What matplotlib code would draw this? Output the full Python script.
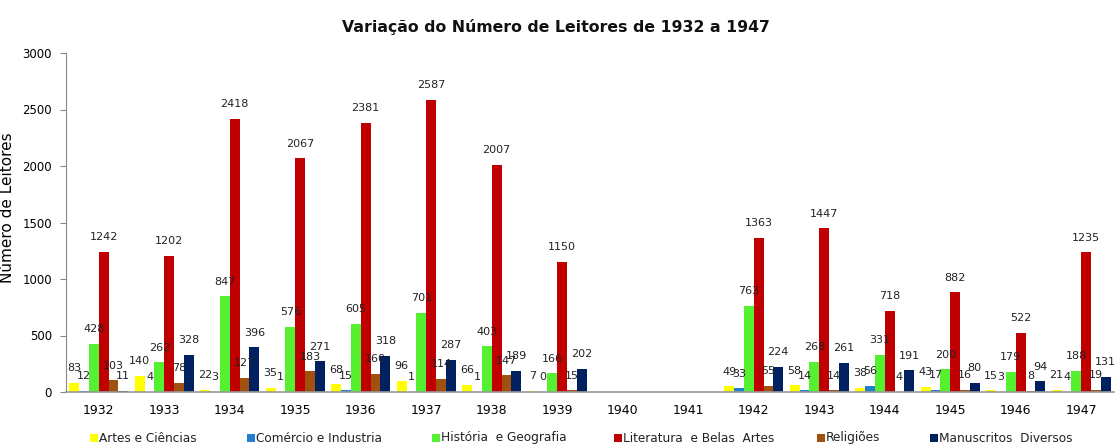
import matplotlib
matplotlib.use("Agg")
import matplotlib.pyplot as plt
from matplotlib.patches import Rectangle
import numpy as np

years = ["1932", "1933", "1934", "1935", "1936", "1937", "1938", "1939",
         "1940", "1941", "1942", "1943", "1944", "1945", "1946", "1947"]
series_names = ["Artes e Ciências", "Comércio e Industria", "História  e Geografia",
                "Literatura  e Belas  Artes", "Religiões", "Manuscritos  Diversos"]
nan = np.nan
artes = [83, 140, 22, 35, 68, 96, 66, 7, nan, nan, 49, 58, 38, 43, 15, 21]
comercio = [12, 4, 3, 1, 15, 1, 1, 0, nan, nan, 33, 14, 56, 17, 3, 4]
historia = [428, 262, 847, 576, 605, 701, 403, 166, nan, nan, 763, 268, 331, 200, 179, 188]
literatura = [1242, 1202, 2418, 2067, 2381, 2587, 2007, 1150, nan, nan, 1363, 1447, 718, 882, 522, 1235]
religioes = [103, 78, 127, 183, 160, 114, 147, 15, nan, nan, 55, 14, 4, 16, 8, 19]
manuscritos = [11, 328, 396, 271, 318, 287, 189, 202, nan, nan, 224, 261, 191, 80, 94, 131]
series = [artes, comercio, historia, literatura, religioes, manuscritos]
colors = ["#FFFF00", "#1F7FD0", "#55F030", "#C00000", "#A0500F", "#002060"]

W, H = 1116, 447
fig = plt.figure(figsize=(W / 100, H / 100), dpi=100)
ax = fig.add_axes([66 / W, 1 - 392 / H, 1048 / W, 339 / H])

x = np.arange(len(years))
w = 0.15
for i, (vals, c) in enumerate(zip(series, colors)):
    pos = x + (i - 2.5) * w
    arr = np.array(vals, dtype=float)
    ax.bar(pos, arr, width=w, color=c, zorder=2)
    for p, v in zip(pos, arr):
        if not np.isnan(v):
            ax.annotate(f"{int(v)}", (p, v), xytext=(0, 7), textcoords="offset points",
                        ha="center", va="bottom", fontsize=8, color="#222222", zorder=3)

ax.set_xlim(-0.5, len(years) - 0.5)
ax.set_ylim(0, 3000)
ax.set_yticks(range(0, 3001, 500))
ax.set_xticks(x)
ax.set_xticklabels(years)
ax.tick_params(axis="x", length=0, pad=9, labelsize=9)
ax.tick_params(axis="y", length=4, color="#888888", labelsize=8.5, pad=6)
for s in ["top", "right"]:
    ax.spines[s].set_visible(False)
ax.spines["left"].set_color("#888888")
ax.spines["bottom"].set_color("#999999")
ax.spines["bottom"].set_linewidth(1.2)
ax.set_ylabel("Número de Leitores", fontsize=11)
ax.yaxis.set_label_coords((15 - 66) / 1048, (392 - 208) / 339)

fig.text(0.498, 1 - 27 / H, "Variação do Número de Leitores de 1932 a 1947",
         ha="center", va="center", fontsize=11.3, fontweight="bold", color="#111111")

# legend (manually placed like the reference)
leg_x = [90, 247, 432, 614, 817, 930]
for lx, name, c in zip(leg_x, series_names, colors):
    fig.patches.append(Rectangle((lx / W, 1 - 442 / H), 8 / W, 8 / H,
                                 transform=fig.transFigure, facecolor=c,
                                 edgecolor="none"))
    fig.text((lx + 9) / W, 1 - 438 / H, name, ha="left", va="center",
             fontsize=8.7, color="#222222")

fig.savefig("out.png", dpi=100)
